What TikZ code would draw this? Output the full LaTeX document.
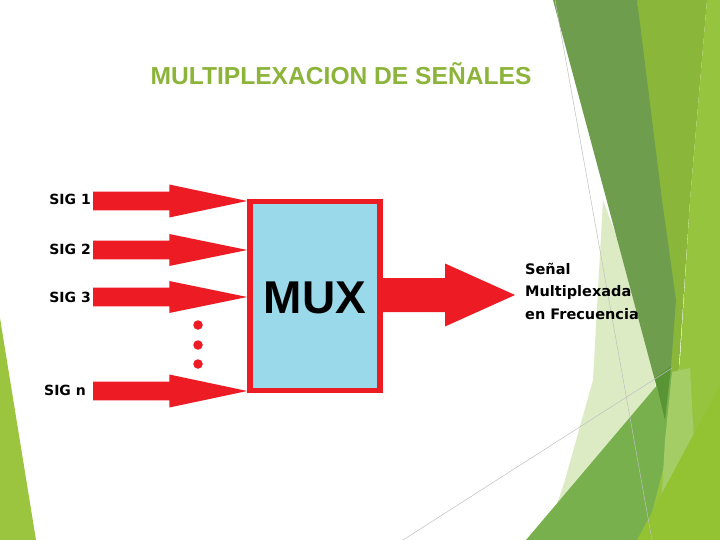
\documentclass[tikz,border=0pt]{standalone}
\usepackage{fontspec}
\setmainfont{DejaVu Sans}
\newfontfamily\muxfont{Liberation Sans}
\usetikzlibrary{calc}
\definecolor{arrowred}{HTML}{ED1C24}
\definecolor{muxblue}{HTML}{99D9EA}
\definecolor{titlegreen}{HTML}{8CB43A}
\definecolor{gdark}{HTML}{6E9D4E}
\definecolor{gmed}{HTML}{8AB73A}
\definecolor{gbright}{HTML}{97C43E}
\definecolor{gyellow}{HTML}{93C232}
\definecolor{glight}{HTML}{A5CD66}
\definecolor{gpale}{HTML}{DDEBC5}
\definecolor{gbottom}{HTML}{77B04D}
\definecolor{gdeep}{HTML}{5A9535}
\definecolor{gleft}{HTML}{9BC53F}
\newcommand\fatarrow[5]{%
  \fill[arrowred] let \p1=(#1), \p2=(#2) in
    (\x1,\y1+#3) -- (\x2-#5,\y1+#3) -- (\x2-#5,\y1+#4) -- (\x2,\y2)
    -- (\x2-#5,\y1-#4) -- (\x2-#5,\y1-#3) -- (\x1,\y1-#3) -- cycle;}
\begin{document}
\begin{tikzpicture}[x=1pt,y=-1pt,
  siglabel/.style={anchor=east,inner sep=1pt,font=\bfseries\fontsize{14}{16}\selectfont},
  muxbox/.style={draw=arrowred,fill=muxblue,line width=5.5pt,minimum width=130pt,minimum height=189pt,inner sep=0pt},
  dot/.style={circle,fill=arrowred,inner sep=0pt,minimum size=9.5pt},
  bgline/.style={draw=black!25,line width=0.5pt}]
\useasboundingbox (0,0) rectangle (720,540);
% background facets
\fill[gleft] (0,318) -- (36,540) -- (0,540) -- cycle;
\fill[gpale] (603,200) -- (640,300) -- (655,380) -- (660,460) -- (600,540) -- (545,540) -- (565,480) -- (593,380) -- cycle;
\fill[gmed] (637,0) -- (707,0) -- (690,200) -- (678,380) -- (665,415) -- cycle;
\fill[gdark] (553,0) -- (637,0) -- (662,200) -- (676,300) -- (670,380) -- (665,418) -- cycle;
\fill[gbottom] (526,540) -- (670,370) -- (690,385) -- (655,540) -- cycle;
\fill[gdeep] (655,378) -- (671,366) -- (665,420) -- cycle;
\fill[gbright] (707,0) -- (720,0) -- (720,540) -- (645,540) -- (668,450) -- (680,360) -- (690,200) -- cycle;
\fill[glight] (672,372) -- (690,368) -- (695,460) -- (660,525) -- (665,440) -- cycle;
\fill[gyellow] (637,540) -- (720,385) -- (720,540) -- cycle;
\path[bgline] (555,0) -- (652,540);
\path[bgline] (403,540) -- (672,368);
% title
\node[text=titlegreen,font=\muxfont\bfseries\fontsize{24.6}{28}\selectfont,anchor=base,inner sep=0pt] (title) at (341,84.3) {MULTIPLEXACION DE SEÑALES};
% mux
\node[muxbox] (mux) at (315,296) {};
\node[font=\muxfont\bfseries\fontsize{46}{50}\selectfont] (muxtxt) at (315,298) {MUX};
% labels
\node[siglabel] (s1) at (92,199) {SIG 1};
\node[siglabel] (s2) at (92,249) {SIG 2};
\node[siglabel] (s3) at (92,297) {SIG 3};
\node[siglabel] (sn) at (87,390) {SIG n};
\coordinate (a1) at (93,201);
\coordinate (a2) at (93,250);
\coordinate (a3) at (93,297);
\coordinate (an) at (93,391);
\fatarrow{a1}{mux.west |- a1}{9.3pt}{16.5pt}{78pt}
\fatarrow{a2}{mux.west |- a2}{9.3pt}{16pt}{78pt}
\fatarrow{a3}{mux.west |- a3}{9.3pt}{16pt}{78pt}
\fatarrow{an}{mux.west |- an}{9.3pt}{16.5pt}{78pt}
\node[dot] (d1) at (198,325) {};
\node[dot] (d2) at (198,345) {};
\node[dot] (d3) at (198,364) {};
% output
\coordinate (outstart) at (380,295);
\coordinate (outend) at (515,295);
\fatarrow{outstart}{outend}{17pt}{31.5pt}{70pt}
\node[anchor=north west,align=left,inner sep=0pt,font=\bfseries\fontsize{14.5}{22.5}\selectfont] (out) at (525,263) {Señal\\Multiplexada\\en Frecuencia};
\end{tikzpicture}
\end{document}
